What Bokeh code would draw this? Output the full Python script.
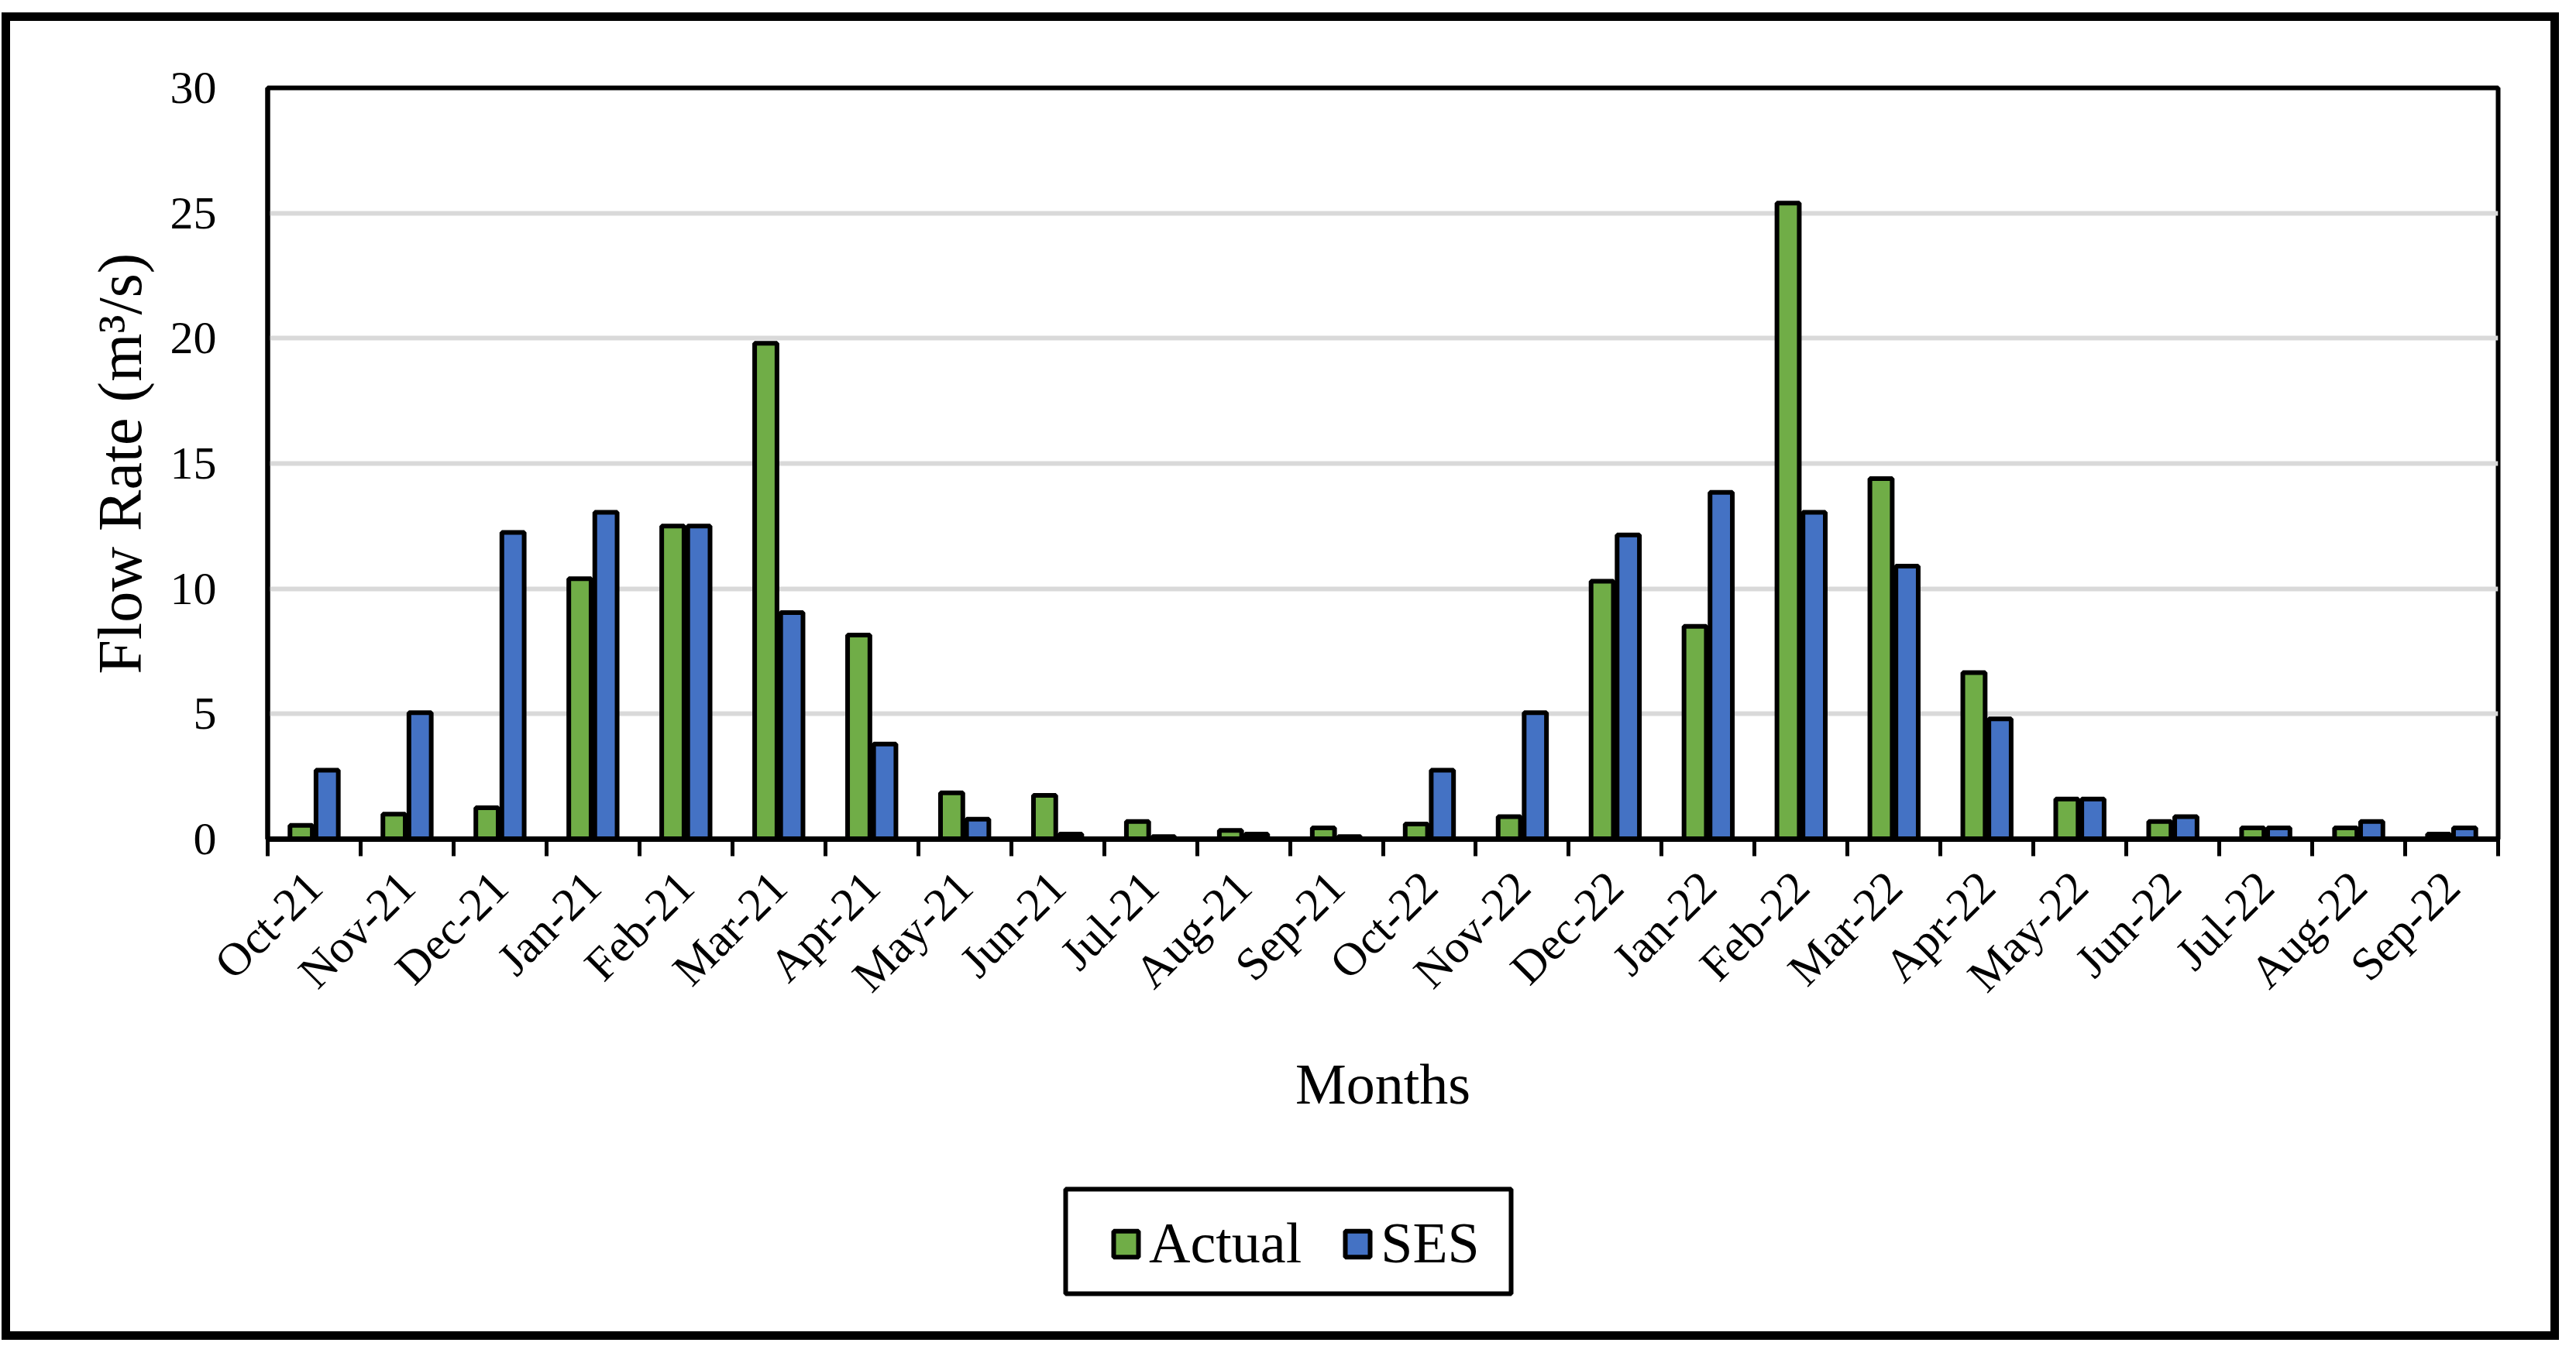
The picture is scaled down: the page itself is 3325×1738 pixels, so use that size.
import numpy as np
from bokeh.plotting import figure
from bokeh.layouts import column
from bokeh.models import (Range1d, FixedTicker, Legend, LegendItem, ColumnDataSource,
                          BoxAnnotation)
from bokeh.transform import dodge
from bokeh.embed import file_html
from bokeh.resources import INLINE

# ---- data -------------------------------------------------------------
months = ["Oct-21", "Nov-21", "Dec-21", "Jan-21", "Feb-21", "Mar-21",
          "Apr-21", "May-21", "Jun-21", "Jul-21", "Aug-21", "Sep-21",
          "Oct-22", "Nov-22", "Dec-22", "Jan-22", "Feb-22", "Mar-22",
          "Apr-22", "May-22", "Jun-22", "Jul-22", "Aug-22", "Sep-22"]
actual = [0.55, 1.0, 1.25, 10.4, 12.5, 19.8, 8.15, 1.85, 1.75, 0.7, 0.35, 0.45,
          0.6, 0.9, 10.3, 8.5, 25.4, 14.4, 6.65, 1.6, 0.7, 0.45, 0.45, 0.2]
ses = [2.75, 5.05, 12.25, 13.05, 12.5, 9.05, 3.8, 0.8, 0.2, 0.1, 0.2, 0.1,
       2.75, 5.05, 12.15, 13.85, 13.05, 10.9, 4.8, 1.6, 0.9, 0.45, 0.7, 0.45]
y_ticks = [0, 5, 10, 15, 20, 25, 30]
series_names = ["Actual", "SES"]

FONT = "Liberation Serif"
GREEN = "#70AD47"
BLUE = "#4472C4"
W = 3301
H_MAIN = 1466
H_LEG = 248
MB_LEFT = 332
MB_RIGHT = 90
FRAME_W = W - MB_LEFT - MB_RIGHT

# legend box, in pixels measured inside the legend strip's frame
BOX_L, BOX_R, BOX_B, BOX_T = 1030, 1605, 60, 195
LEG_X, LEG_Y = 1088, 82

n = len(months)
centers = [i + 0.5 for i in range(n)]
boundaries = list(range(n + 1))
source = ColumnDataSource(dict(x=centers, actual=actual, ses=ses))

# ---- main chart -------------------------------------------------------
p = figure(width=W, height=H_MAIN, output_backend="svg", toolbar_location=None,
           x_range=Range1d(0, n), y_range=Range1d(y_ticks[0], y_ticks[-1]),
           min_border_left=MB_LEFT, min_border_right=MB_RIGHT, min_border_top=86,
           min_border_bottom=410)
p.styles = {"border-style": "solid", "border-color": "black",
            "border-width": "11px 11px 0px 11px"}
p.background_fill_color = "white"
p.border_fill_color = "white"
p.outline_line_color = "black"
p.outline_line_width = 6

bw = 0.24
g = p.vbar(x=dodge("x", -0.14, range=p.x_range), top="actual", bottom=0, width=bw,
           source=source, fill_color=GREEN, line_color="black", line_width=6)
b = p.vbar(x=dodge("x", 0.14, range=p.x_range), top="ses", bottom=0, width=bw,
           source=source, fill_color=BLUE, line_color="black", line_width=6)

xa = p.xaxis[0]
xa.ticker = FixedTicker(ticks=centers, minor_ticks=boundaries)
xa.major_label_overrides = {float(c): m for c, m in zip(centers, months)}
xa.major_tick_line_color = None
xa.major_tick_out = 22
xa.major_tick_in = 0
xa.minor_tick_out = 22
xa.minor_tick_in = 0
xa.minor_tick_line_color = "black"
xa.minor_tick_line_width = 5
xa.axis_line_color = "black"
xa.axis_line_width = 7
xa.major_label_orientation = np.pi / 4
xa.major_label_standoff = 30
xa.major_label_text_font = FONT
xa.major_label_text_font_size = "60px"
xa.major_label_text_color = "black"
xa.axis_label = "Months"
xa.axis_label_text_font = FONT
xa.axis_label_text_font_size = "74px"
xa.axis_label_text_font_style = "normal"
xa.axis_label_text_color = "black"
xa.axis_label_standoff = 40
p.xgrid.visible = False

ya = p.yaxis[0]
ya.ticker = FixedTicker(ticks=y_ticks)
ya.major_tick_line_color = None
ya.minor_tick_line_color = None
ya.axis_line_color = "black"
ya.axis_line_width = 6
ya.major_label_standoff = 60
ya.major_label_text_font = FONT
ya.major_label_text_font_size = "60px"
ya.major_label_text_color = "black"
ya.axis_label = "Flow Rate (m³/s)"
ya.axis_label_text_font = FONT
ya.axis_label_text_font_size = "80px"
ya.axis_label_text_font_style = "normal"
ya.axis_label_text_color = "black"
ya.axis_label_standoff = 18
p.ygrid.grid_line_color = "#D9D9D9"
p.ygrid.grid_line_width = 6

# ---- legend strip (same side borders so the frames line up) -----------
q = figure(width=W, height=H_LEG, output_backend="svg", toolbar_location=None,
           x_axis_type=None, y_axis_type=None,
           x_range=Range1d(0, FRAME_W), y_range=Range1d(0, H_LEG),
           min_border_left=MB_LEFT, min_border_right=MB_RIGHT, min_border_top=0,
           min_border_bottom=0)
q.styles = {"border-style": "solid", "border-color": "black",
            "border-width": "0px 11px 11px 11px"}
q.background_fill_color = "white"
q.border_fill_color = "white"
q.outline_line_color = None

q.add_layout(BoxAnnotation(left=BOX_L, right=BOX_R, bottom=BOX_B, top=BOX_T,
                           fill_color="white", fill_alpha=1.0,
                           line_color="black", line_alpha=1.0, line_width=6,
                           level="underlay"))

# legend swatches: renderers with no drawable value, only their style is used
lg = q.vbar(x=[0.0], top=[float("nan")], width=1, fill_color=GREEN,
            line_color="black", line_width=6)
lb = q.vbar(x=[0.0], top=[float("nan")], width=1, fill_color=BLUE,
            line_color="black", line_width=6)

legend = Legend(items=[LegendItem(label=series_names[0], renderers=[lg]),
                       LegendItem(label=series_names[1], renderers=[lb])],
                orientation="horizontal", location=(LEG_X, LEG_Y),
                border_line_color=None, background_fill_alpha=0,
                label_text_font=FONT, label_text_font_size="74px",
                label_text_color="black",
                glyph_width=40, glyph_height=42, label_standoff=10,
                spacing=52, padding=0, margin=0)
q.add_layout(legend, "center")

layout = column(p, q, spacing=0, margin=(16, 0, 0, 2))

open("out.html", "w").write(file_html(layout, INLINE))
